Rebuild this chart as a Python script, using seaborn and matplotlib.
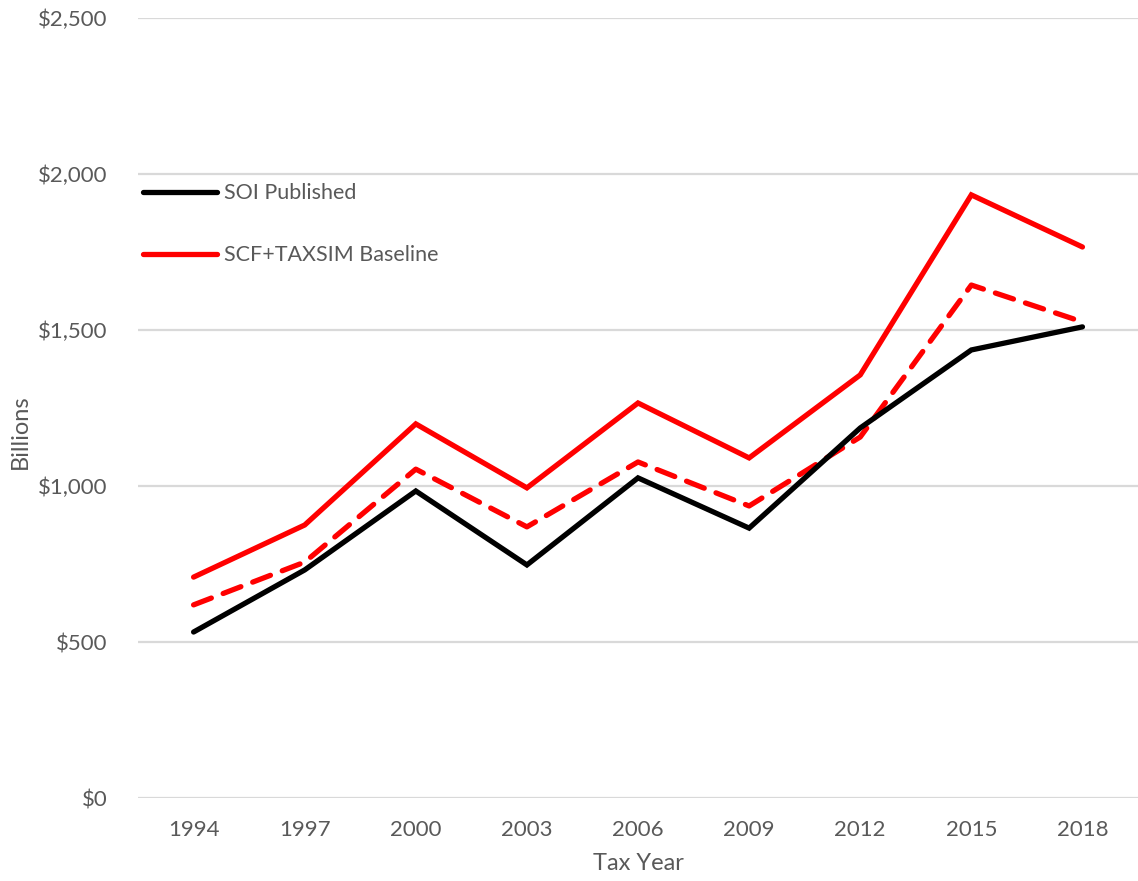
import matplotlib
matplotlib.use("Agg")
import matplotlib.pyplot as plt
import seaborn as sns
import pandas as pd

years = [1994, 1997, 2000, 2003, 2006, 2009, 2012, 2015, 2018]
soi_published = [532, 731, 984, 747, 1026, 865, 1186, 1436, 1510]
scf_taxsim_baseline = [708, 875, 1199, 994, 1266, 1090, 1356, 1933, 1766]
scf_taxsim_dashed = [619, 756, 1054, 869, 1077, 936, 1157, 1644, 1526]
y_ticks = [0, 500, 1000, 1500, 2000, 2500]

sns.set_theme(style="white")
plt.rcParams['font.family'] = ['Lato', 'DejaVu Sans']
txt = '#595959'

fig = plt.figure(figsize=(11.38, 8.81), dpi=100)
ax = fig.add_axes([0.1213, 0.0942, 0.8787, 0.8854])

df = pd.DataFrame({"year": years, "soi": soi_published,
                   "base": scf_taxsim_baseline, "dash": scf_taxsim_dashed})

lw = 3.8
sns.lineplot(data=df, x="year", y="dash", color="#ff0000", linewidth=lw,
             label="_nolegend_", ax=ax)
ax.lines[-1].set_dashes((3.6, 2.4))
ax.lines[-1].set_dash_capstyle('round')
sns.lineplot(data=df, x="year", y="base", color="#ff0000", linewidth=lw,
             label="SCF+TAXSIM Baseline", ax=ax)
sns.lineplot(data=df, x="year", y="soi", color="black", linewidth=lw,
             label="SOI Published", ax=ax)
for ln in ax.lines:
    ln.set_solid_capstyle('round')
    ln.set_solid_joinstyle('miter')

ax.set_xlim(1992.5, 2019.5)
ax.set_ylim(0, 2500)
ax.set_xticks(years)
ax.set_xticklabels([str(y) for y in years], fontsize=16, color=txt)
ax.set_yticks(y_ticks)
ax.set_yticklabels([f"${v:,}" for v in y_ticks], fontsize=16, color=txt)
ax.tick_params(axis='x', length=0, pad=16)
ax.tick_params(axis='y', length=0, pad=22)
ax.grid(axis='y', color='#d9d9d9', linewidth=1.6)
ax.set_axisbelow(True)
for s in ax.spines.values():
    s.set_visible(False)

ax.set_xlabel("Tax Year", fontsize=17, color=txt, labelpad=9)
ax.set_ylabel("")
fig.text(0.018, 0.51, "Billions", rotation=90, fontsize=17, color=txt,
         ha='center', va='center')

handles, labels = ax.get_legend_handles_labels()
order = [labels.index("SOI Published"), labels.index("SCF+TAXSIM Baseline")]
leg = ax.legend([handles[i] for i in order], [labels[i] for i in order],
                loc='upper left', bbox_to_anchor=(0.126, 0.792),
                bbox_transform=fig.transFigure, frameon=False,
                fontsize=15.5, handlelength=3.4, handletextpad=0.35,
                labelspacing=1.95, borderaxespad=0, borderpad=0)
for t in leg.get_texts():
    t.set_color(txt)

fig.savefig("out.png", dpi=100)
